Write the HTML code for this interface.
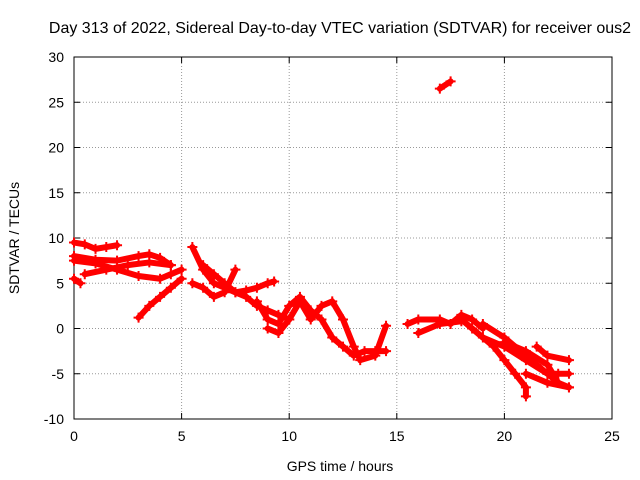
<!DOCTYPE html>
<html><head><meta charset="utf-8"><style>
body{margin:0;background:#fff;}
svg{display:block;font-family:"Liberation Sans",sans-serif;}
</style></head><body>
<svg id="chart" width="640" height="480" viewBox="0 0 640 480">
<rect width="640" height="480" fill="#fff"/>
<text x="340" y="33" font-size="16" text-anchor="middle" fill="#000">Day 313 of 2022, Sidereal Day-to-day VTEC variation (SDTVAR) for receiver ous2</text>
<g id="grid"></g><g id="axes"></g><g id="series"></g>
<text x="340" y="471" font-size="14" text-anchor="middle">GPS time / hours</text>
<text x="19" y="238" font-size="14" text-anchor="middle" transform="rotate(-90 19 238)">SDTVAR / TECUs</text>
</svg>
<script>
const xTicks=[0,5,10,15,20,25];
const yTicks=[-10,-5,0,5,10,15,20,25,30];
const trackA=[[0,9.5],[0.5,9.3],[1,8.8],[1.5,9],[2,9.2]];
const trackB=[[0,8],[1,7.6],[2,7.5],[3,8],[3.5,8.2],[4,7.8],[4.5,7]];
const trackC=[[0,7.5],[1,7.2],[2,6.5],[3,5.8],[4,5.5],[4.5,6],[5,6.5]];
const trackD=[[0.5,6],[1.5,6.5],[2.5,7],[3.5,7.3],[4.5,7]];
const trackE=[[0,5.5],[0.3,5]];
const trackF=[[3,1.2],[3.5,2.5],[4,3.5],[4.5,4.5],[5,5.5]];
const trackG=[[5.5,9],[6,6.5],[6.5,5],[7,4.5],[7.5,4],[8,3.5],[8.5,2.5],[9,2],[9.5,1.5],[10,1]];
const trackH=[[5.5,5],[6,4.5],[6.5,3.5],[7,4],[7.5,6.5]];
const trackI=[[6,7],[6.5,6],[7,5],[7.5,4],[8,4.2],[8.5,4.5],[9,5],[9.3,5.2]];
const trackJ=[[8.5,3],[9,1],[9.5,0.5],[10,2.5],[10.5,3.5],[11,2],[11.5,1],[12,-1],[12.5,-2],[13,-3],[13.5,-2.5],[14,-2.5],[14.5,-2.5]];
const trackK=[[9,0],[9.5,-0.5],[10,1],[10.5,3],[11,1],[11.5,2.5],[12,3],[12.5,1],[13,-2],[13.3,-3.5],[14,-3],[14.5,0.3]];
const trackL=[[15.5,0.5],[16,1],[17,1],[17.5,0.5],[18,1.5],[18.5,1],[19,0]];
const trackM=[[16,-0.5],[17,0.5],[18,0.8]];
const trackN=[[17,26.5],[17.5,27.3]];
const trackO=[[18,1],[19,-1],[20,-2],[21,-3.5],[22,-5],[22.5,-6],[23,-6.5]];
const trackP=[[18.5,0],[19.5,-2],[20,-3.5],[20.5,-5],[21,-6.5],[21,-7.5]];
const trackQ=[[19,0.5],[20,-1],[21,-3],[21.5,-4],[22,-5],[22.5,-5],[23,-5]];
const trackR=[[21.5,-2],[22,-3],[23,-3.5]];
const trackS=[[21,-5],[22,-6],[23,-6.5]];
const trackT=[[20,-1.5],[21,-2.5],[22,-4],[22.5,-6]];
const tracks=[trackA,trackB,trackC,trackD,trackE,trackF,trackG,trackH,trackI,trackJ,trackK,trackL,trackM,trackN,trackO,trackP,trackQ,trackR,trackS,trackT];

const L=74,R=612,T=57,B=419;
const xs=v=>L+(v-0)/25*(R-L);
const ys=v=>B-(v+10)/40*(B-T);
const NS="http://www.w3.org/2000/svg";
function mk(tag,attrs,parent){const e=document.createElementNS(NS,tag);for(const k in attrs)e.setAttribute(k,attrs[k]);parent.appendChild(e);return e;}
const grid=document.getElementById('grid'),axes=document.getElementById('axes'),ser=document.getElementById('series');
xTicks.forEach(t=>{
  if(t>0&&t<25){const g=mk('line',{x1:xs(t),x2:xs(t),y1:T,y2:B,stroke:'#999','stroke-dasharray':'1,2','stroke-width':1},grid);
  
  }
  const tx=mk('text',{x:xs(t),y:B+22,'font-size':14,'text-anchor':'middle'},axes);tx.textContent=t;
  
  
  mk('line',{x1:xs(t),x2:xs(t),y1:B,y2:B-6,stroke:'#000'},axes);
  mk('line',{x1:xs(t),x2:xs(t),y1:T,y2:T+6,stroke:'#000'},axes);
});
yTicks.forEach(t=>{
  if(t>-10&&t<30){const g=mk('line',{x1:L,x2:R,y1:ys(t),y2:ys(t),stroke:'#999','stroke-dasharray':'1,2','stroke-width':1},grid);
  
  }
  const tx=mk('text',{x:L-10,y:ys(t)+5,'font-size':14,'text-anchor':'end'},axes);tx.textContent=t;
  
  
  mk('line',{x1:L,x2:L+6,y1:ys(t),y2:ys(t),stroke:'#000'},axes);
  mk('line',{x1:R,x2:R-6,y1:ys(t),y2:ys(t),stroke:'#000'},axes);
});
const frame=mk('rect',{x:L,y:T,width:R-L,height:B-T,fill:'none',stroke:'#000'},axes);


tracks.forEach(tr=>{
  const p=mk('polyline',{points:tr.map(d=>xs(d[0])+','+ys(d[1])).join(' '),fill:'none',stroke:'#f00','stroke-width':6,'stroke-linecap':'round','stroke-linejoin':'round'},ser);
  
  
  tr.forEach(d=>{
    const m=mk('path',{d:`M${xs(d[0])-5},${ys(d[1])}h10M${xs(d[0])},${ys(d[1])-5}v10`,stroke:'#f00','stroke-width':2},ser);
    
    
  });
});
</script>
</body></html>
